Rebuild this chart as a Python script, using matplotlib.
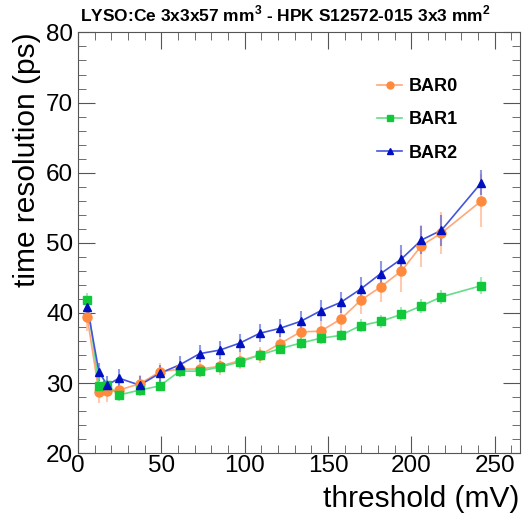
import numpy as np
import matplotlib.pyplot as plt
from matplotlib.ticker import MultipleLocator
from matplotlib.lines import Line2D

plt.rcParams['font.family'] = ['Liberation Sans', 'DejaVu Sans']
plt.rcParams['mathtext.fontset'] = 'custom'
plt.rcParams['mathtext.bf'] = 'Liberation Sans:bold'
plt.rcParams['mathtext.rm'] = 'Liberation Sans'

# Dane
threshold = [5.5, 12.5, 17.5, 24.5, 37, 49, 61, 73, 85, 97, 109, 121,
             133.5, 145.5, 157.5, 169.5, 181.5, 194, 206, 218, 242]

bar0 = [39.4, 28.7, 28.8, 29.0, 29.9, 31.6, 32.0, 32.0, 32.4, 33.2, 34.0, 35.6,
        37.3, 37.4, 39.1, 41.8, 43.7, 46.0, 49.6, 51.4, 56.0]
bar0_err = [2.0, 1.5, 1.5, 1.3, 1.2, 1.3, 1.2, 1.2, 1.2, 1.2, 1.2, 1.5,
            1.5, 1.5, 1.8, 2.0, 2.2, 3.0, 3.0, 3.0, 3.8]

bar1 = [41.9, 29.6, 29.7, 28.3, 29.0, 29.6, 31.7, 31.7, 32.3, 33.0, 34.0, 34.9,
        35.7, 36.4, 36.8, 38.2, 38.8, 39.8, 41.0, 42.3, 43.9]
bar1_err = [1.0, 0.8, 0.8, 0.8, 0.8, 0.8, 0.8, 0.8, 0.8, 0.8, 0.8, 0.8,
            0.8, 0.8, 0.8, 0.9, 0.9, 1.0, 1.0, 1.0, 1.2]

bar2 = [40.9, 31.6, 29.7, 30.7, 29.7, 31.4, 32.6, 34.2, 34.7, 35.7, 37.1, 37.8,
        38.8, 40.3, 41.5, 43.4, 45.6, 47.7, 50.4, 51.8, 58.6]
bar2_err = [1.0, 1.3, 1.3, 1.3, 1.3, 1.2, 1.2, 1.2, 1.3, 1.3, 1.3, 1.3,
            1.5, 1.5, 1.5, 1.7, 1.8, 2.0, 2.0, 2.2, 1.8]

labels = ['BAR0', 'BAR1', 'BAR2']
marker_colors = ['#ff8a3d', '#10c83a', '#0010c0']
line_colors = ['#ffa877', '#66dd88', '#4455dd']
markers = ['o', 's', '^']
msizes = [6.5, 6, 6]

fig = plt.figure(figsize=(5.24, 5.15), dpi=100)
ax = fig.add_axes([0.149, 0.120, 0.843, 0.817])

series = [(bar0, bar0_err), (bar1, bar1_err), (bar2, bar2_err)]
handles = []
for (y, yerr), lab, mc, lc, m, ms in zip(series, labels, marker_colors, line_colors, markers, msizes):
    ax.errorbar(threshold, y, yerr=yerr, fmt='none', ecolor=lc, elinewidth=1.5,
                alpha=0.6, capsize=0, zorder=2)
    ax.plot(threshold, y, '-', color=lc, lw=1.2, zorder=3)
    ax.plot(threshold, y, m, color=mc, ms=ms, mec=mc, zorder=4)
    handles.append(Line2D([], [], color=lc, lw=1.2, marker=m, mfc=mc, mec=mc,
                          ms=ms - 1.5))

ax.set_xlim(0, 265)
ax.set_ylim(20, 80)
ax.xaxis.set_major_locator(MultipleLocator(50))
ax.xaxis.set_minor_locator(MultipleLocator(10))
ax.yaxis.set_major_locator(MultipleLocator(10))
ax.yaxis.set_minor_locator(MultipleLocator(2))
ax.tick_params(which='both', direction='in', top=True, right=True,
               color='#555555', labelsize=17.5)
ax.tick_params(which='major', length=12)
ax.tick_params(which='minor', length=6)
ax.tick_params(axis='x', pad=1)
for s in ax.spines.values():
    s.set_color('#555555')

ax.set_xlabel('threshold (mV)', fontsize=21.5, loc='right', labelpad=6)
ax.set_ylabel('time resolution (ps)', fontsize=21.5, loc='top', labelpad=4)

fig.text(0.545, 0.972, r'LYSO:Ce 3x3x57 mm$^\mathbf{3}$ - HPK S12572-015 3x3 mm$^\mathbf{2}$',
         ha='center', va='center', fontsize=12.5, fontweight='bold')

leg = ax.legend(handles, labels, loc='upper left', bbox_to_anchor=(0.64, 0.93),
                frameon=False, prop={'weight': 'bold', 'size': 13},
                handlelength=1.4, handletextpad=0.35, labelspacing=0.9)

fig.savefig('out.png', dpi=100)
